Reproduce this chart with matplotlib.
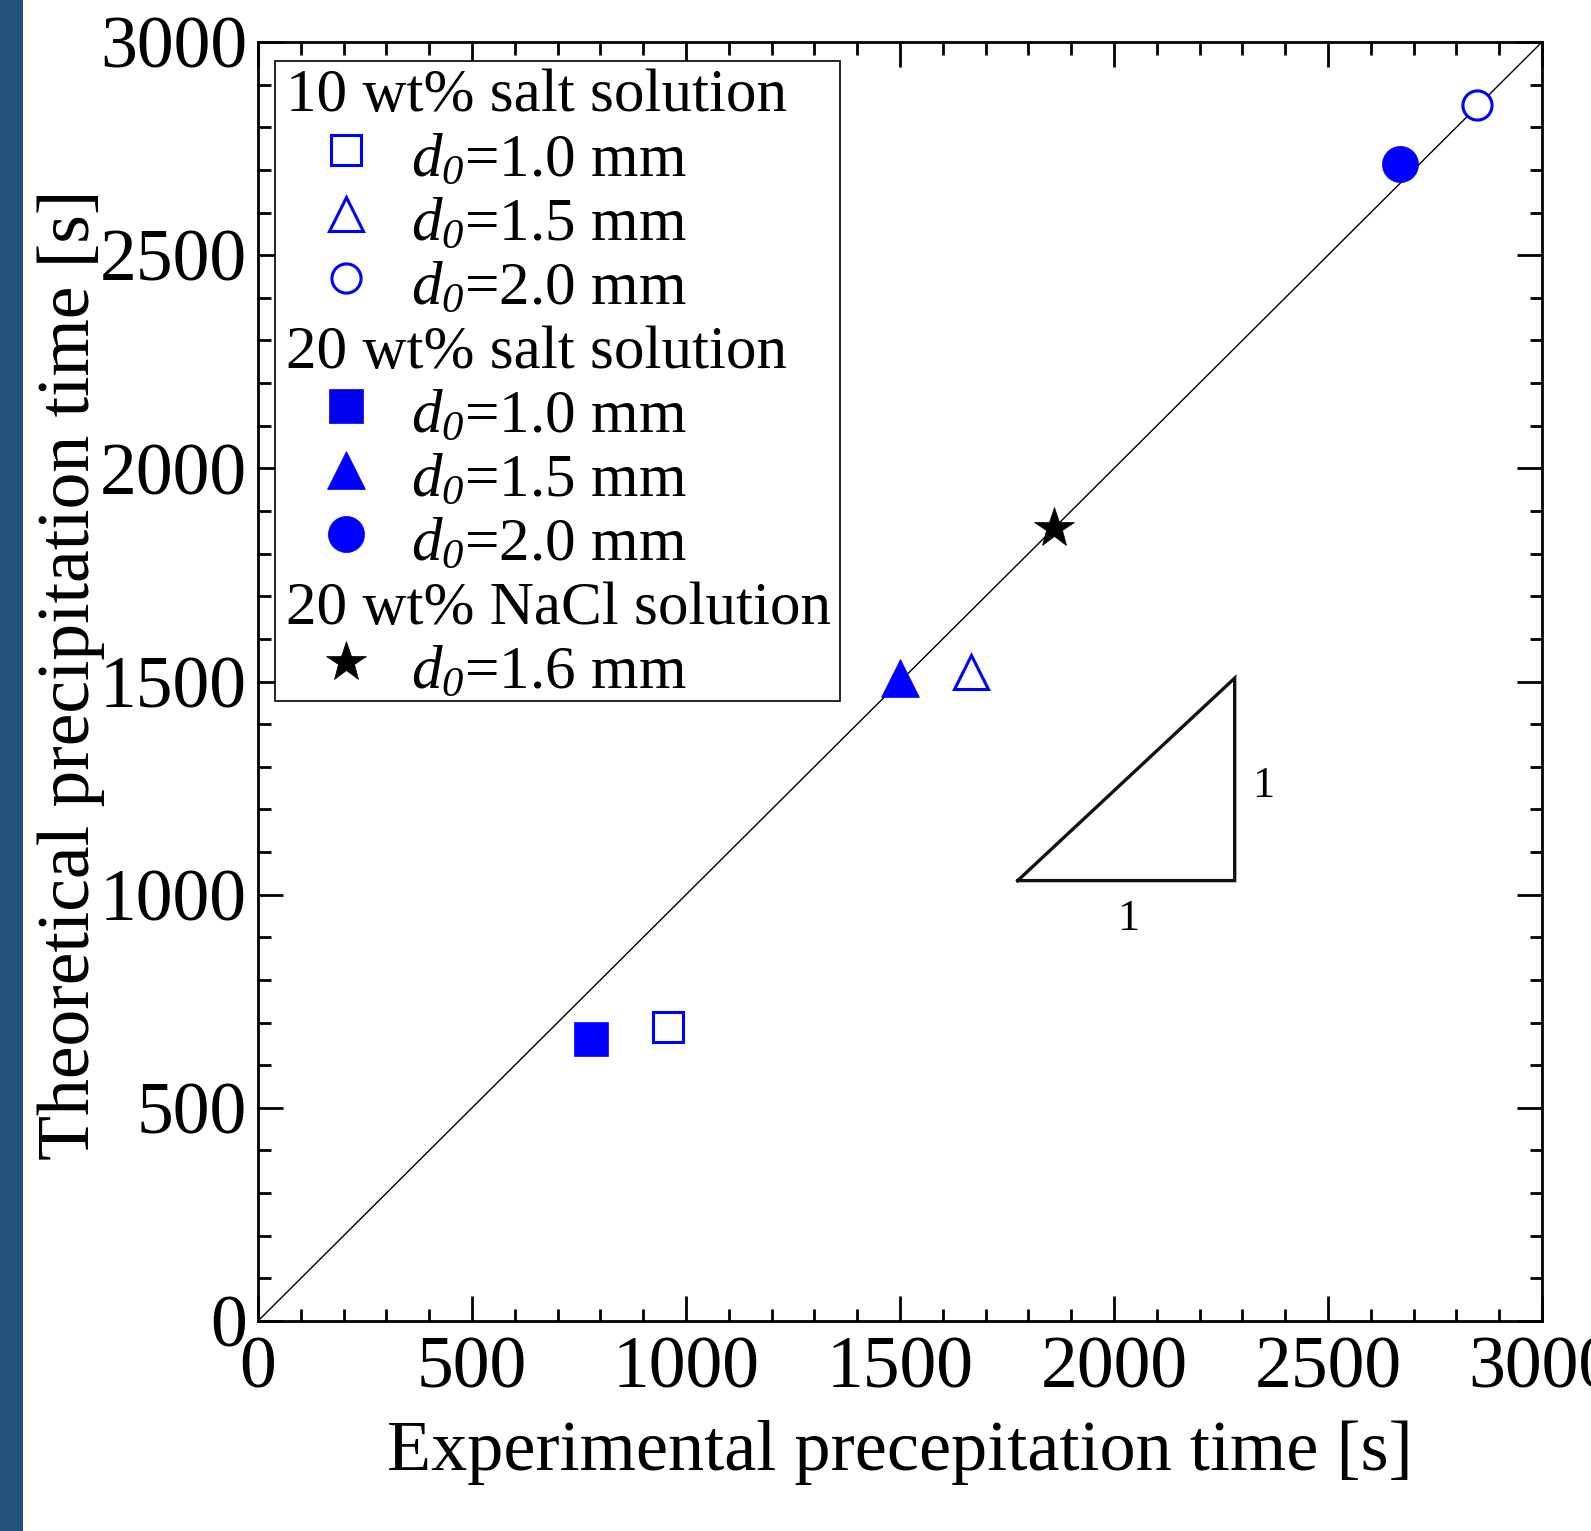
import matplotlib
matplotlib.use("Agg")
import matplotlib.pyplot as plt
from matplotlib.lines import Line2D
from matplotlib.patches import Rectangle
from matplotlib.offsetbox import DrawingArea, VPacker, AnchoredOffsetbox

plt.rcParams['font.family'] = ['Liberation Serif', 'DejaVu Serif']
plt.rcParams['mathtext.fontset'] = 'custom'
plt.rcParams['mathtext.rm'] = 'Liberation Serif'
plt.rcParams['mathtext.it'] = 'Liberation Serif:italic'
# italic digits: 'it' falls back to upright for digits, so borrow 'sf'
plt.rcParams['mathtext.sf'] = 'Liberation Serif:italic'

# experimental vs theoretical precipitation time [s]
exp_10 = [957, 1666, 2848]
theo_10 = [690, 1523, 2853]
exp_20 = [777, 1500, 2668]
theo_20 = [661, 1508, 2714]
exp_nacl = [1860]
theo_nacl = [1860]

d0_10 = ["1.0", "1.5", "2.0"]
d0_20 = ["1.0", "1.5", "2.0"]
d0_nacl = ["1.6"]

# slope triangle (drawn in data units)
tri_x = [1775, 2282, 2282, 1775]
tri_y = [1033, 1033, 1508, 1033]

BLUE = '#0000ff'
open_styles = [dict(marker='s', ms=22), dict(marker='^', ms=24), dict(marker='o', ms=21)]
filled_styles = [dict(marker='s', ms=25), dict(marker='^', ms=27), dict(marker='o', ms=26)]
star_style = dict(marker='*', ms=30)

fig = plt.figure(figsize=(15.91, 15.31), dpi=100)
fig.patches.append(Rectangle((0, 0), 23 / 1591, 1, transform=fig.transFigure,
                             facecolor='#23507a', edgecolor='none'))
ax = fig.add_axes([258 / 1591, 210 / 1531, 1284 / 1591, 1279 / 1531])

ax.plot([0, 3000], [0, 3000], color='k', lw=1.0, zorder=1)

def open_kw(st):
    return dict(linestyle='none', mfc='white', mec=BLUE, mew=2.2, **st)

def filled_kw(st, c=BLUE):
    return dict(linestyle='none', mfc=c, mec=c, mew=0.5, **st)

for x, y, st in zip(exp_10, theo_10, open_styles):
    ax.plot([x], [y], zorder=3, **open_kw(st))
for x, y, st in zip(exp_20, theo_20, filled_styles):
    ax.plot([x], [y], zorder=3, **filled_kw(st))
star_kw = dict(linestyle='none', mfc='k', mec='k', mew=0.5, **star_style)
ax.plot(exp_nacl, theo_nacl, zorder=4, **star_kw)

ax.plot(tri_x, tri_y, color='#111111', lw=2.4, solid_joinstyle='miter', zorder=2)
ax.text(2348, 1254, "1", fontsize=32, ha='center', va='center')
ax.text(2033, 944, "1", fontsize=32, ha='center', va='center')

ax.set_xlim(0, 3000)
ax.set_ylim(0, 3000)
ax.set_xticks(range(0, 3001, 500))
ax.set_yticks(range(0, 3001, 500))
ax.set_xticks(range(0, 3001, 100), minor=True)
ax.set_yticks(range(0, 3001, 100), minor=True)
ax.tick_params(which='both', direction='in', top=True, right=True, width=2.0)
ax.tick_params(which='major', length=18, labelsize=53)
ax.tick_params(which='minor', length=9)
ax.tick_params(axis='x', pad=11)
ax.tick_params(axis='y', pad=8)
for sp in ax.spines.values():
    sp.set_linewidth(2.0)

ax.set_xlabel("Experimental precepitation time [s]", fontsize=52, labelpad=12)
ax.set_ylabel("Theoretical precipitation time [s]", fontsize=53)
ax.yaxis.set_label_coords(-0.119, 0.505)

# legend built from fixed-height rows
ROW_W, ROW_H = 407, 46.1
FS = 44
def header_row(text):
    da = DrawingArea(ROW_W, ROW_H)
    da.add_artist(plt.Text(8, 9.8, text, fontsize=FS, va='baseline'))
    return da

def entry_row(kw, d0):
    da = DrawingArea(ROW_W, ROW_H)
    da.add_artist(Line2D([51], [28], **kw))
    da.add_artist(plt.Text(98, 9.8, r"$\mathit{d}_{\mathsf{0}}$=" + d0 + " mm",
                           fontsize=FS, va='baseline'))
    return da

rows = [header_row("10 wt% salt solution")]
rows += [entry_row(open_kw(st), d) for st, d in zip(open_styles, d0_10)]
rows += [header_row("20 wt% salt solution")]
rows += [entry_row(filled_kw(st, '#0000ee' if st['marker'] == 's' else BLUE), d)
         for st, d in zip(filled_styles, d0_20)]
rows += [header_row("20 wt% NaCl solution")]
rows += [entry_row(star_kw, d) for d in d0_nacl]

box = AnchoredOffsetbox(loc='upper left', child=VPacker(children=rows, sep=0, pad=0),
                        pad=0, borderpad=0, frameon=True,
                        bbox_to_anchor=(17 / 1284, 1 - 19 / 1279),
                        bbox_transform=ax.transAxes)
box.patch.set_linewidth(1.2)
box.patch.set_edgecolor('k')
box.zorder = 5
ax.add_artist(box)

fig.savefig("out.png", dpi=100)
